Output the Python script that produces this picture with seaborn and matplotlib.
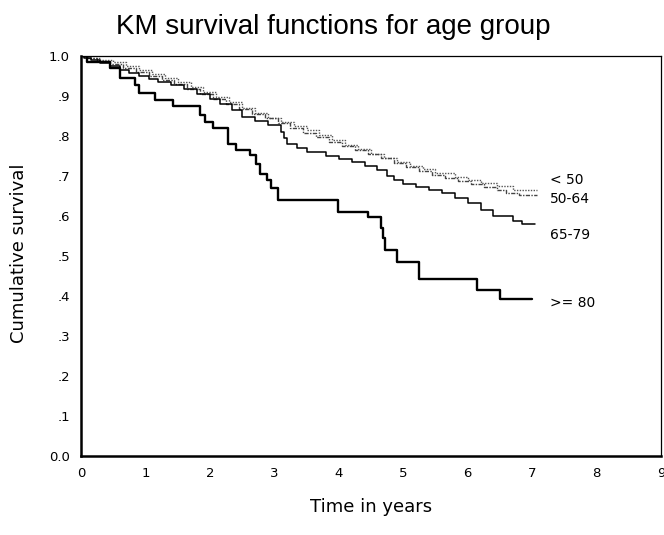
import matplotlib
matplotlib.use("Agg")
import matplotlib.pyplot as plt
import numpy as np
import pandas as pd
import seaborn as sns

# Kaplan-Meier step estimates per age group (time in years, cumulative survival)
groups = ["< 50", "50-64", "65-79", ">= 80"]

t_lt50 = [0.0, 0.15, 0.3, 0.5, 0.7, 0.9, 1.1, 1.3, 1.5, 1.7, 1.9, 2.1, 2.3, 2.5,
          2.7, 2.9, 3.1, 3.3, 3.5, 3.7, 3.9, 4.1, 4.3, 4.5, 4.7, 4.9, 5.1, 5.3,
          5.5, 5.8, 6.0, 6.2, 6.45, 6.7, 7.08]
s_lt50 = [1.0, 0.995, 0.99, 0.985, 0.975, 0.965, 0.955, 0.945, 0.935, 0.922,
          0.91, 0.898, 0.885, 0.87, 0.858, 0.846, 0.836, 0.826, 0.816, 0.803,
          0.79, 0.778, 0.767, 0.756, 0.745, 0.735, 0.726, 0.717, 0.708, 0.697,
          0.69, 0.682, 0.674, 0.665, 0.665]

t_50_64 = [0.0, 0.1, 0.25, 0.45, 0.65, 0.85, 1.05, 1.25, 1.45, 1.65, 1.85, 2.05,
           2.25, 2.45, 2.65, 2.85, 3.05, 3.25, 3.45, 3.65, 3.85, 4.05, 4.25,
           4.45, 4.65, 4.85, 5.05, 5.25, 5.45, 5.65, 5.85, 6.05, 6.25, 6.45,
           6.6, 6.8, 7.08]
s_50_64 = [1.0, 0.995, 0.988, 0.98, 0.97, 0.96, 0.95, 0.94, 0.93, 0.918, 0.905,
           0.893, 0.88, 0.868, 0.855, 0.845, 0.833, 0.82, 0.808, 0.797, 0.785,
           0.775, 0.765, 0.755, 0.745, 0.733, 0.722, 0.712, 0.703, 0.694, 0.687,
           0.68, 0.672, 0.665, 0.658, 0.652, 0.652]

t_65_79 = [0.0, 0.05, 0.15, 0.3, 0.45, 0.6, 0.75, 0.9, 1.05, 1.2, 1.4, 1.6, 1.8,
           2.0, 2.15, 2.35, 2.5, 2.7, 2.9, 3.1, 3.15, 3.2, 3.35, 3.5, 3.8, 4.0,
           4.2, 4.4, 4.6, 4.75, 4.85, 5.0, 5.2, 5.4, 5.6, 5.8, 6.0, 6.2, 6.4,
           6.7, 6.85, 7.05]
s_65_79 = [1.0, 0.995, 0.99, 0.982, 0.975, 0.965, 0.958, 0.95, 0.942, 0.935,
           0.928, 0.918, 0.905, 0.892, 0.88, 0.865, 0.848, 0.838, 0.828, 0.81,
           0.795, 0.78, 0.77, 0.76, 0.75, 0.742, 0.735, 0.725, 0.715, 0.7, 0.69,
           0.68, 0.672, 0.665, 0.657, 0.645, 0.632, 0.615, 0.6, 0.587, 0.58,
           0.58]

t_ge80 = [0.0, 0.1, 0.45, 0.6, 0.84, 0.9, 1.15, 1.43, 1.85, 1.92, 2.05, 2.28,
          2.4, 2.62, 2.72, 2.78, 2.88, 2.95, 3.05, 3.99, 4.45, 4.65, 4.68, 4.72,
          4.9, 5.25, 6.15, 6.5, 7.0]
s_ge80 = [1.0, 0.985, 0.97, 0.945, 0.927, 0.907, 0.89, 0.875, 0.852, 0.835,
          0.82, 0.78, 0.765, 0.752, 0.73, 0.705, 0.69, 0.67, 0.64, 0.61, 0.598,
          0.57, 0.545, 0.515, 0.485, 0.443, 0.415, 0.392, 0.392]

# label anchors at the right end of each curve
label_x = [7.28, 7.28, 7.28, 7.28]
label_y = [0.69, 0.643, 0.552, 0.382]

x_ticks = [0, 1, 2, 3, 4, 5, 6, 7, 8, 9]
y_ticks = [0.0, 0.1, 0.2, 0.3, 0.4, 0.5, 0.6, 0.7, 0.8, 0.9, 1.0]
y_tick_labels = ["0.0", ".1", ".2", ".3", ".4", ".5", ".6", ".7", ".8", ".9", "1.0"]

frames = []
for name, t, s in zip(groups,
                      [t_lt50, t_50_64, t_65_79, t_ge80],
                      [s_lt50, s_50_64, s_65_79, s_ge80]):
    frames.append(pd.DataFrame({"time": t, "survival": s, "group": name}))
df = pd.concat(frames, ignore_index=True)

sns.set_style("white")
plt.rcParams["font.family"] = ["DejaVu Sans"]
plt.rcParams["text.color"] = "black"

fig = plt.figure(figsize=(6.64, 5.35), dpi=100)
ax = fig.add_axes([81 / 664, 1 - 456 / 535, 580 / 664, 400 / 535])

palette = {"< 50": "#555555", "50-64": "#444444", "65-79": "black", ">= 80": "black"}
dashes = {"< 50": (1, 1), "50-64": (3, 1, 1, 1), "65-79": "", ">= 80": ""}
sizes = {"< 50": 1.0, "50-64": 1.0, "65-79": 1.1, ">= 80": 1.7}

sns.lineplot(data=df, x="time", y="survival", hue="group", style="group",
             size="group", palette=palette, dashes=dashes, sizes=sizes,
             hue_order=groups, style_order=groups, size_order=groups,
             estimator=None, sort=False, drawstyle="steps-post",
             legend=False, ax=ax)

for name, lx, ly in zip(groups, label_x, label_y):
    ax.text(lx, ly, name, fontsize=10, ha="left", va="center", color="black")

ax.set_xlim(0, 9)
ax.set_ylim(0, 1.0)
ax.set_xticks(x_ticks)
ax.set_xticklabels([str(v) for v in x_ticks])
ax.set_yticks(y_ticks)
ax.set_yticklabels(y_tick_labels)
ax.tick_params(axis="both", direction="out", length=3, width=2,
               labelsize=9.5, colors="black", labelcolor="black", pad=5)

for side in ["left", "bottom"]:
    ax.spines[side].set_linewidth(1.8)
for side in ["top", "right"]:
    ax.spines[side].set_linewidth(0.9)
for sp in ax.spines.values():
    sp.set_color("black")
    sp.set_visible(True)

ax.set_xlabel("")
ax.set_ylabel("")
fig.text(19 / 664, 1 - 253 / 535, "Cumulative survival", rotation=90,
         ha="center", va="center", fontsize=13, color="black")
fig.text(371 / 664, 1 - 507 / 535, "Time in years", ha="center", va="center",
         fontsize=13, color="black")
fig.text(333 / 664, 1 - 27 / 535, "KM survival functions for age group",
         ha="center", va="center", fontsize=20, color="black",
         family=["Liberation Sans"])

fig.savefig("out.png", dpi=100, facecolor="white")
